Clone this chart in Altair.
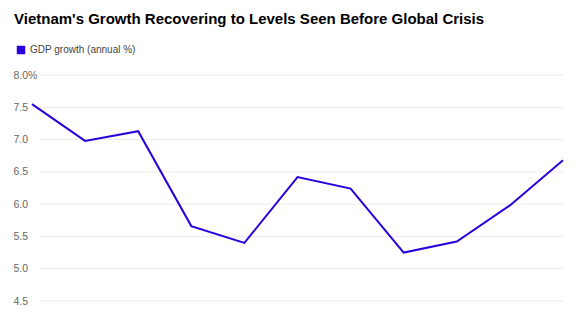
import altair as alt
import pandas as pd

years = [2005, 2006, 2007, 2008, 2009, 2010, 2011, 2012, 2013, 2014, 2015]
gdp_growth = [7.55, 6.98, 7.13, 5.66, 5.40, 6.42, 6.24, 5.25, 5.42, 5.98, 6.68]
y_ticks = [4.5, 5.0, 5.5, 6.0, 6.5, 7.0, 7.5, 8.0]
series_name = "GDP growth (annual %)"
title_text = "Vietnam's Growth Recovering to Levels Seen Before Global Crisis"

LINE_COLOR = "#2a00dc"

df = pd.DataFrame({"year": years, "value": gdp_growth, "series": [series_name] * len(years)})
grid_df = pd.DataFrame({"tick": y_ticks})

y_scale = alt.Scale(domain=[4.5, 8.0], nice=False, zero=False)
y_axis = alt.Axis(values=y_ticks, grid=False, domain=False, ticks=False,
                  labelAlign="left", labelPadding=19, labelBaseline="middle",
                  labelOverlap=False, labelFlush=False,
                  labelFont="Liberation Sans", labelFontSize=10.5, labelColor="#666666",
                  labelExpr="datum.value == 8 ? format(datum.value, '.1f') + '%' : format(datum.value, '.1f')",
                  title=None)

grid = alt.Chart(grid_df).mark_rule(color="#ebebeb", strokeWidth=1).encode(
    y=alt.Y("tick:Q", scale=y_scale, axis=y_axis),
    x=alt.value(8),
    x2=alt.value(531),
)

line = alt.Chart(df).mark_line(strokeWidth=2, strokeJoin="miter").encode(
    x=alt.X("year:Q", scale=alt.Scale(domain=[2005, 2015], nice=False, zero=False), axis=None),
    y=alt.Y("value:Q", scale=y_scale, axis=y_axis),
    color=alt.Color("series:N", scale=alt.Scale(range=[LINE_COLOR]),
                    legend=alt.Legend(orient="none", legendX=-16, legendY=-30, title=None,
                                      symbolType="square", symbolSize=72, padding=0,
                                      labelFont="Liberation Sans", labelFontSize=10,
                                      labelColor="#444444", labelOffset=4,
                                      symbolFillColor=LINE_COLOR, symbolStrokeWidth=0,
                                      symbolOpacity=1)),
)

chart = alt.layer(grid, line).properties(
    width=531,
    height=226,
    autosize=alt.AutoSizeParams(type="none"),
    padding={"left": 32, "top": 75, "right": 23, "bottom": 27},
    title=alt.TitleParams(title_text, anchor="start", frame="group", dx=-18,
                          font="Liberation Sans", fontSize=15, fontWeight="bold",
                          color="#000000", offset=18),
).configure(background="white").configure_view(stroke=None).configure_axisY(labelOverlap=False)

chart.save("out.html", embed_options={"renderer": "svg", "actions": False})
